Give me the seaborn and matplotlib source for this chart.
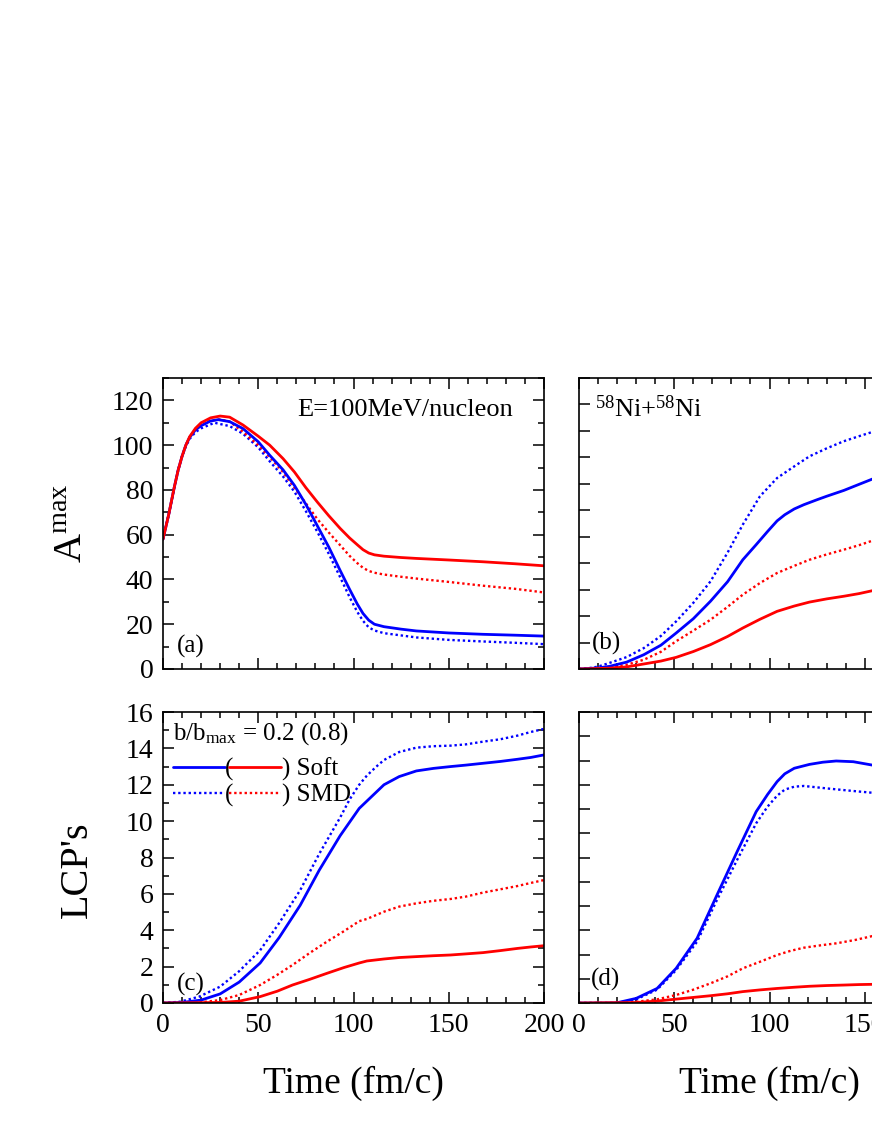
import numpy as np
import pandas as pd
import matplotlib
matplotlib.use("Agg")
import matplotlib.pyplot as plt
from matplotlib.lines import Line2D
from matplotlib.ticker import MultipleLocator, NullFormatter
import seaborn as sns

# ---------------- data ----------------
# Panel (a): A^max vs time
ta_rs = [0, 3, 6, 8, 10, 12, 14, 17, 20, 25, 30, 35, 42, 50, 56, 63, 69, 75, 81, 87, 93, 98, 102, 105, 108, 111, 116, 125, 133, 150, 168, 185, 200]
va_rs = [58, 69, 81.5, 89, 95, 100, 103.8, 107.5, 110, 112.2, 113, 112.5, 109, 104, 100, 94, 88, 81, 74.6, 68.5, 62.8, 58.5, 55.5, 53.3, 51.8, 51, 50.4, 49.8, 49.4, 48.7, 47.9, 47, 46.1]
ta_rd = [0, 3, 6, 8, 10, 12, 14, 17, 20, 25, 30, 35, 42, 50, 56, 63, 69, 75, 81, 87, 93, 98, 102, 105, 108, 111, 116, 125, 133, 150, 168, 185, 200]
va_rd = [58, 69, 81.5, 89, 95, 100, 103.5, 106.8, 108.8, 111, 111.5, 110.5, 106, 100, 94.7, 88, 81, 74, 67, 61, 55.3, 50.5, 47.3, 45.2, 43.8, 43, 42.2, 41.2, 40.4, 38.9, 37.2, 35.8, 34.2]
ta_bs = [0, 3, 6, 8, 10, 12, 14, 17, 20, 25, 29, 35, 42, 50, 56, 63, 69, 75, 81, 87, 93, 98, 102, 105, 108, 111, 116, 125, 133, 150, 168, 185, 200]
va_bs = [58, 69, 81.5, 89, 95, 100, 103.5, 106.8, 108.7, 110.8, 111.4, 110.5, 107.4, 101.5, 95.5, 89, 82, 73.5, 64, 54.5, 44, 35.5, 29, 24.8, 21.8, 20, 18.9, 17.8, 17, 16.1, 15.5, 15.1, 14.7]
ta_bd = [0, 3, 6, 8, 10, 12, 14, 17, 20, 27, 35, 42, 50, 56, 63, 69, 75, 81, 87, 93, 98, 102, 105, 108, 111, 116, 125, 133, 150, 168, 185, 200]
va_bd = [58, 69, 81.5, 89, 95, 99.5, 102.8, 105.8, 107.5, 110, 108.5, 105.1, 99, 92.8, 86, 79.2, 70.5, 61.3, 51.5, 41, 32, 25.5, 21.5, 18.6, 17.2, 16, 15, 14.1, 13, 12.3, 11.7, 11.1]

# Panel (b)
tb_bd = [0, 5, 10, 16, 25, 34, 43, 51, 60, 69, 78, 86, 95, 104, 113, 121, 130, 139, 147, 154, 160]
vb_bd = [0, 0.3, 0.9, 2.3, 4.5, 7.9, 12.5, 18, 25, 33.1, 44, 54.6, 65.3, 72.2, 76.6, 80.4, 83.4, 86.1, 88, 89.6, 90.8]
tb_bs = [0, 10, 16, 25, 34, 43, 51, 60, 69, 78, 86, 93, 99, 104, 108, 113, 118, 125, 130, 139, 147, 154, 160]
vb_bs = [0, 0.4, 1, 2.6, 5.4, 9, 13.6, 19, 25.6, 33, 41.3, 47, 52, 56, 58.3, 60.5, 62.1, 64, 65.3, 67.5, 69.8, 71.8, 73.2]
tb_rd = [0, 10, 16, 25, 34, 43, 51, 60, 69, 78, 86, 95, 104, 113, 121, 130, 139, 147, 154, 160]
vb_rd = [0, 0.2, 0.6, 1.6, 3.5, 6.5, 10.5, 14.5, 18.6, 23.5, 28.1, 32.5, 36.3, 39, 41.3, 43.3, 45.1, 46.8, 48.5, 49.6]
tb_rs = [0, 16, 25, 34, 43, 51, 60, 69, 78, 86, 95, 104, 113, 121, 130, 139, 147, 154, 160]
vb_rs = [0, 0.3, 0.8, 1.9, 3, 4.4, 6.6, 9.2, 12.3, 15.5, 18.8, 21.8, 23.8, 25.3, 26.5, 27.5, 28.5, 29.6, 30.3]

# Panel (c): LCP's
tc_bd = [0, 9, 19, 30, 40, 51, 61, 72, 82, 93, 98, 103, 107, 112, 116, 124, 133, 142, 151, 159, 168, 177, 186, 193, 200]
vc_bd = [0, 0.07, 0.35, 0.9, 1.75, 2.9, 4.4, 6.2, 8.2, 10.2, 11.2, 12.0, 12.5, 13.0, 13.36, 13.8, 14.04, 14.12, 14.15, 14.22, 14.37, 14.5, 14.7, 14.9, 15.07]
tc_bs = [0, 10, 20, 30, 40, 51, 61, 72, 82, 93, 98, 103, 107, 112, 116, 124, 133, 142, 151, 159, 168, 177, 186, 193, 200]
vc_bs = [0, 0.03, 0.16, 0.5, 1.15, 2.2, 3.6, 5.37, 7.3, 9.2, 9.95, 10.7, 11.1, 11.6, 12.0, 12.45, 12.76, 12.9, 13.0, 13.08, 13.18, 13.28, 13.4, 13.5, 13.64]
tc_rd = [0, 20, 30, 40, 51, 60, 68, 77, 86, 95, 103, 107, 116, 124, 133, 142, 151, 159, 168, 177, 186, 193, 200]
vc_rd = [0, 0.04, 0.16, 0.44, 0.99, 1.55, 2.09, 2.75, 3.37, 3.95, 4.5, 4.62, 5.02, 5.3, 5.48, 5.62, 5.72, 5.85, 6.07, 6.25, 6.43, 6.6, 6.76]
tc_rs = [0, 30, 40, 51, 60, 68, 77, 86, 95, 103, 107, 116, 124, 133, 142, 151, 159, 168, 177, 186, 193, 200]
vc_rs = [0, 0.03, 0.1, 0.35, 0.65, 0.99, 1.3, 1.63, 1.95, 2.2, 2.31, 2.42, 2.5, 2.55, 2.6, 2.64, 2.7, 2.77, 2.88, 3.0, 3.08, 3.15]

# Panel (d)
td_bs = [0, 10, 20, 30, 41, 51, 62, 72, 83, 93, 99, 104, 108, 113, 121, 128, 135, 144, 154, 160]
vd_bs = [0, 0, 0.01, 0.19, 0.6, 1.43, 2.67, 4.38, 6.24, 7.89, 8.6, 9.13, 9.45, 9.68, 9.84, 9.93, 9.98, 9.95, 9.81, 9.7]
td_bd = [0, 20, 30, 41, 51, 62, 72, 83, 93, 99, 104, 108, 113, 118, 124, 130, 139, 147, 154, 160]
vd_bd = [0, 0, 0.15, 0.55, 1.36, 2.53, 4.18, 5.9, 7.41, 8.1, 8.55, 8.8, 8.92, 8.95, 8.9, 8.85, 8.78, 8.72, 8.67, 8.63]
td_rd = [0, 20, 30, 41, 51, 60, 69, 78, 86, 95, 104, 111, 118, 127, 135, 145, 154, 160]
vd_rd = [0, 0, 0.05, 0.15, 0.33, 0.55, 0.81, 1.1, 1.43, 1.7, 1.98, 2.15, 2.28, 2.38, 2.46, 2.6, 2.76, 2.85]
td_rs = [0, 30, 41, 51, 60, 69, 78, 86, 95, 104, 113, 121, 130, 139, 147, 154, 160]
vd_rs = [0, 0.02, 0.08, 0.16, 0.23, 0.3, 0.38, 0.47, 0.54, 0.6, 0.65, 0.69, 0.72, 0.74, 0.76, 0.77, 0.78]

panel_labels = ["(a)", "(b)", "(c)", "(d)"]
x_label = "Time (fm/c)"
y_label_top = r"A$^{\rm max}$"
y_label_bottom = "LCP's"

# ---------------- style ----------------
sns.set_theme(style="ticks")
plt.rcParams["font.family"] = ["Liberation Serif", "DejaVu Serif"]
plt.rcParams["mathtext.fontset"] = "custom"
plt.rcParams["mathtext.rm"] = "Liberation Serif"
plt.rcParams["mathtext.it"] = "Liberation Serif:italic"
plt.rcParams["mathtext.bf"] = "Liberation Serif:bold"
for k in ("text.color", "axes.labelcolor", "xtick.color", "ytick.color", "axes.edgecolor"):
    plt.rcParams[k] = "black"

BLUE = "#0000FF"
RED = "#FF0000"
LW_S = 2.0
LW_D = 1.7
DOT = (0, (1, 1.2))

fig = plt.figure(figsize=(8.72, 11.28), dpi=100)
W = 381 / 872
H = 291 / 1128
ax_a = fig.add_axes([163 / 872, 1 - 669 / 1128, W, H])
ax_b = fig.add_axes([579 / 872, 1 - 669 / 1128, W, H])
ax_c = fig.add_axes([163 / 872, 1 - 1003 / 1128, W, H])
ax_d = fig.add_axes([579 / 872, 1 - 1003 / 1128, W, H])


def draw(ax, t, v, color, dotted):
    sns.lineplot(x=t, y=v, ax=ax, color=color, lw=(LW_D if dotted else LW_S),
                 linestyle=(DOT if dotted else "-"), sort=False, estimator=None)


for ax, series in [
    (ax_a, [(ta_bd, va_bd, BLUE, True), (ta_rd, va_rd, RED, True), (ta_bs, va_bs, BLUE, False), (ta_rs, va_rs, RED, False)]),
    (ax_b, [(tb_bd, vb_bd, BLUE, True), (tb_rd, vb_rd, RED, True), (tb_bs, vb_bs, BLUE, False), (tb_rs, vb_rs, RED, False)]),
    (ax_c, [(tc_bd, vc_bd, BLUE, True), (tc_rd, vc_rd, RED, True), (tc_bs, vc_bs, BLUE, False), (tc_rs, vc_rs, RED, False)]),
    (ax_d, [(td_bd, vd_bd, BLUE, True), (td_rd, vd_rd, RED, True), (td_bs, vd_bs, BLUE, False), (td_rs, vd_rs, RED, False)]),
]:
    for t, v, c, d in series:
        draw(ax, t, v, c, d)

for ax in (ax_a, ax_b, ax_c, ax_d):
    ax.set_xlim(0, 200)
    ax.xaxis.set_major_locator(MultipleLocator(50))
    ax.xaxis.set_minor_locator(MultipleLocator(10))
    ax.tick_params(which="both", direction="in", top=True, right=True, width=1.1, colors="black")
    ax.tick_params(which="major", length=8, labelsize=20, pad=7)
    ax.tick_params(which="minor", length=4)
    for s in ax.spines.values():
        s.set_linewidth(1.2)
        s.set_color("black")
    ax.set_xlabel("")
    ax.set_ylabel("")

ax_a.set_ylim(0, 130)
ax_a.yaxis.set_major_locator(MultipleLocator(20))
ax_a.yaxis.set_minor_locator(MultipleLocator(10))
ax_b.set_ylim(0, 110)
ax_b.yaxis.set_major_locator(MultipleLocator(10))
ax_c.set_ylim(0, 16)
ax_c.yaxis.set_major_locator(MultipleLocator(2))
ax_c.yaxis.set_minor_locator(MultipleLocator(1))
ax_d.set_ylim(0, 12)
ax_d.yaxis.set_major_locator(MultipleLocator(1))

for ax in (ax_a, ax_b):
    ax.xaxis.set_major_formatter(NullFormatter())
for ax in (ax_b, ax_d):
    ax.yaxis.set_major_formatter(NullFormatter())

# axis labels
ax_a.set_ylabel(y_label_top, fontsize=29)
ax_a.yaxis.set_label_coords(-0.19, 0.5)
ax_c.set_ylabel(y_label_bottom, fontsize=29)
ax_c.yaxis.set_label_coords(-0.175, 0.457)
for ax in (ax_c, ax_d):
    ax.set_xlabel(x_label, fontsize=27)
    ax.xaxis.set_label_coords(0.5, -0.215)

# annotations
ax_a.text(0.919, 0.89, "E=100MeV/nucleon", transform=ax_a.transAxes, ha="right", va="center", fontsize=19)
ax_b.text(0.042, 0.866, r"$^{58}$Ni+$^{58}$Ni", transform=ax_b.transAxes, ha="left", va="baseline", fontsize=19)
for ax, lab, (x, y) in zip((ax_a, ax_b, ax_c, ax_d), panel_labels,
                           [(0.036, 0.077), (0.034, 0.089), (0.036, 0.063), (0.03, 0.08)]):
    ax.text(x, y, lab, transform=ax.transAxes, ha="left", va="center", fontsize=18)

ax_c.text(0.027, 0.925, r"b/b$_{\rm max}$ = 0.2 (0.8)", transform=ax_c.transAxes, ha="left", va="center", fontsize=18)

h1 = [Line2D([], [], color=BLUE, lw=LW_S), Line2D([], [], color=BLUE, lw=LW_D, linestyle=DOT)]
h2 = [Line2D([], [], color=RED, lw=LW_S), Line2D([], [], color=RED, lw=LW_D, linestyle=DOT)]
common = dict(loc="upper left", frameon=False, fontsize=18, handlelength=2.1, borderpad=0,
              borderaxespad=0, labelspacing=0.12)
leg1 = ax_c.legend(h1, ["(", "("], bbox_to_anchor=(0.025, 0.843), handletextpad=0.0, **common)
ax_c.add_artist(leg1)
leg2 = ax_c.legend(h2, [") Soft", ") SMD"], bbox_to_anchor=(0.172, 0.843), handletextpad=0.02, **common)

fig.savefig("out.png", dpi=100, facecolor="white")
